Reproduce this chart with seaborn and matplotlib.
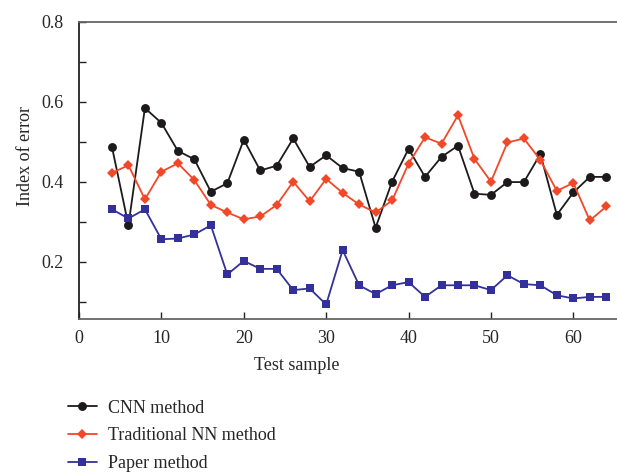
import numpy as np
import pandas as pd
import matplotlib
matplotlib.use("Agg")
import matplotlib.pyplot as plt
import seaborn as sns
from matplotlib.ticker import MultipleLocator, FixedLocator

samples = list(range(4, 65, 2))
cnn = [0.487, 0.291, 0.584, 0.547, 0.477, 0.456, 0.375, 0.396, 0.505, 0.428,
       0.440, 0.508, 0.437, 0.466, 0.434, 0.425, 0.285, 0.400, 0.482, 0.412,
       0.462, 0.490, 0.370, 0.367, 0.399, 0.399, 0.469, 0.317, 0.373, 0.412, 0.412]
trad = [0.422, 0.441, 0.356, 0.425, 0.446, 0.404, 0.342, 0.323, 0.306, 0.313,
        0.342, 0.400, 0.351, 0.407, 0.372, 0.343, 0.323, 0.353, 0.445, 0.511,
        0.495, 0.566, 0.457, 0.400, 0.498, 0.508, 0.454, 0.377, 0.397, 0.303, 0.338]
paper = [0.331, 0.308, 0.331, 0.256, 0.258, 0.268, 0.291, 0.168, 0.202, 0.182,
         0.182, 0.129, 0.133, 0.093, 0.229, 0.141, 0.119, 0.141, 0.149, 0.112,
         0.141, 0.141, 0.141, 0.129, 0.166, 0.144, 0.141, 0.116, 0.108, 0.112, 0.112]
names = ["CNN method", "Traditional NN method", "Paper method"]

df = pd.concat([
    pd.DataFrame({"sample": samples, "err": cnn, "method": names[0]}),
    pd.DataFrame({"sample": samples, "err": trad, "method": names[1]}),
    pd.DataFrame({"sample": samples, "err": paper, "method": names[2]}),
])

sns.set_style("ticks")
plt.rcParams["font.family"] = ["Liberation Serif", "DejaVu Serif"]
FS = 13.0

fig = plt.figure(figsize=(6.17, 4.72), dpi=100)
ax = fig.add_axes([79/617, 1 - 319/472, 1 - 79/617, (319 - 21.7)/472])

palette = {names[0]: "#1c1a1b", names[1]: "#f04828", names[2]: "#33309a"}
markers = {names[0]: "o", names[1]: "D", names[2]: "s"}
sizes = {names[0]: 6.4, names[1]: 5.0, names[2]: 6.3}

for n in names:
    sub = df[df["method"] == n]
    sns.lineplot(data=sub, x="sample", y="err", ax=ax, color=palette[n],
                 marker=markers[n], markersize=sizes[n], markeredgewidth=0,
                 linewidth=1.3, label=n)

ax.set_xlim(0, 65.3)
ax.set_ylim(0.0567, 0.8)
ax.xaxis.set_major_locator(MultipleLocator(10))
ax.yaxis.set_major_locator(FixedLocator([0.2, 0.4, 0.6, 0.8]))
ax.yaxis.set_minor_locator(FixedLocator([0.1, 0.3, 0.5, 0.7]))
ax.tick_params(axis="both", which="both", direction="in", labelsize=FS,
               color="#222222", width=1.0)
ax.tick_params(axis="both", which="major", length=5)
ax.tick_params(axis="y", which="minor", length=5)
ax.tick_params(axis="x", pad=8)
ax.tick_params(axis="y", pad=11)
ax.set_xlabel("Test sample", fontsize=FS)
ax.set_ylabel("Index of error", fontsize=FS)
ax.xaxis.set_label_coords(0.405, -0.158)
ax.yaxis.set_label_coords(-0.1, 0.548)
ax.xaxis.label.set_va("center")
ax.yaxis.label.set_va("center")
for s in ["top", "bottom"]:
    ax.spines[s].set_color("#666666")
    ax.spines[s].set_linewidth(1.3)
ax.spines["left"].set_color("#222222")
ax.spines["left"].set_linewidth(1.3)
ax.spines["right"].set_visible(False)

ax.legend(loc="upper left", bbox_to_anchor=(-0.034, -0.247), frameon=False,
          fontsize=FS, handlelength=1.6, handletextpad=0.6, labelspacing=0.6,
          borderaxespad=0)

fig.savefig("out.png", dpi=100)
